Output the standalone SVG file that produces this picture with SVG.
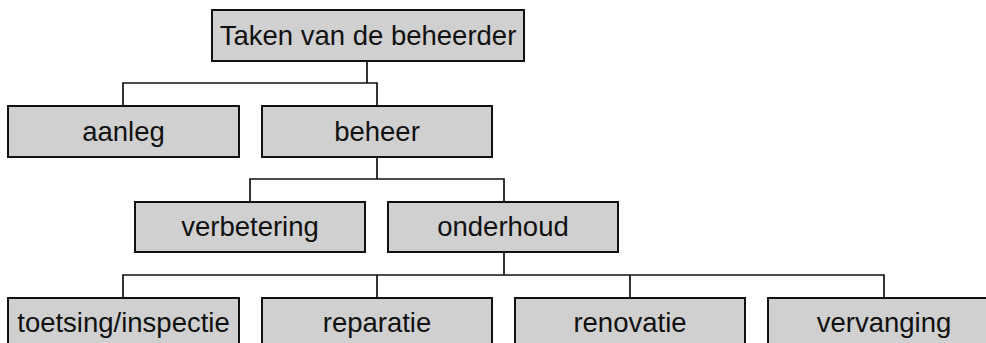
<svg xmlns="http://www.w3.org/2000/svg" width="986" height="343" viewBox="0 0 986 343">
<style>
.box{fill:#d0d0d0;stroke:#111;stroke-width:2}
.lbl{font-family:"Liberation Sans",Arial,sans-serif;font-size:27.5px;fill:#111;text-anchor:middle}
.con{fill:none;stroke:#111;stroke-width:1.7}
</style>
<rect width="986" height="343" fill="#fff"/>
<g id="connectors">
<path class="con" d="M367 61V83M123 106V83H377V106"/>
<path class="con" d="M377 157V179M250 202V179H504V202"/>
<path class="con" d="M504 252V275M123 298V275H884V298M377 275V298M630 275V298"/>
</g>
<g id="n-taken"><rect class="box" x="212" y="10" width="312" height="51"/><text class="lbl" x="368" y="45">Taken van de beheerder</text></g>
<g id="n-aanleg"><rect class="box" x="8" y="106" width="231" height="51"/><text class="lbl" x="123.5" y="141">aanleg</text></g>
<g id="n-beheer"><rect class="box" x="262" y="106" width="230" height="51"/><text class="lbl" x="377" y="141">beheer</text></g>
<g id="n-verbetering"><rect class="box" x="135" y="202" width="230" height="50"/><text class="lbl" x="250" y="236">verbetering</text></g>
<g id="n-onderhoud"><rect class="box" x="388" y="202" width="230" height="50"/><text class="lbl" x="503" y="236">onderhoud</text></g>
<g id="n-toetsing"><rect class="box" x="8" y="298" width="231" height="51"/><text class="lbl" x="123.5" y="332">toetsing/inspectie</text></g>
<g id="n-reparatie"><rect class="box" x="262" y="298" width="230" height="51"/><text class="lbl" x="377" y="332">reparatie</text></g>
<g id="n-renovatie"><rect class="box" x="515" y="298" width="230" height="51"/><text class="lbl" x="630" y="332">renovatie</text></g>
<g id="n-vervanging"><rect class="box" x="768" y="298" width="231" height="51"/><text class="lbl" x="884" y="332">vervanging</text></g>
</svg>
